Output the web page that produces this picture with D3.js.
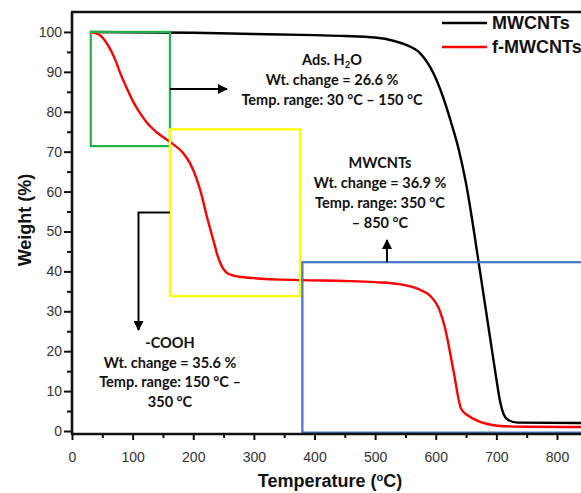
<!DOCTYPE html>
<html>
<head>
<meta charset="utf-8">
<script src="https://cdn.jsdelivr.net/npm/d3@7"></script>
<style>
  body { margin: 0; background: #fff; }
  svg { display: block; overflow: hidden; }
</style>
</head>
<body>
<svg id="chart" width="581" height="493"></svg>
<script>
// TGA data
const mwTemp = [30, 200, 300, 400, 450, 500, 530, 550, 574, 596, 612, 625, 638, 650, 660, 670, 680, 690, 700, 706, 712, 720, 735, 900];
const mwWeight = [100, 99.8, 99.5, 99.2, 99, 98.6, 97.8, 96.8, 94.7, 89.7, 83.7, 77.5, 70.5, 62, 53, 43, 33, 23, 13, 7.5, 4.2, 2.7, 2.1, 2];

const fTemp = [30, 45, 60, 70, 80, 90, 100, 112, 125, 140, 162, 183, 195, 206, 214, 222, 233, 240, 248, 255, 265, 280, 300, 378, 450, 500, 540, 574, 590, 607, 615, 629, 642, 652, 670, 685, 706, 750, 900];
const fWeight = [100, 99.3, 96.5, 93.5, 89.5, 86, 82.8, 79.7, 77, 74.8, 72.4, 69.7, 67, 63, 59, 54, 47.9, 44, 41, 39.7, 39, 38.6, 38.3, 37.8, 37.6, 37.3, 36.8, 35.4, 34, 30, 26, 15.3, 5.5, 4, 2.5, 1.75, 1.25, 1.05, 1.0];

const xTicks = [0, 100, 200, 300, 400, 500, 600, 700, 800];
const xMinor = [50, 150, 250, 350, 450, 550, 650, 750, 850];
const yTicks = [0, 10, 20, 30, 40, 50, 60, 70, 80, 90, 100];
const yMinor = [5, 15, 25, 35, 45, 55, 65, 75, 85, 95];

const seriesNames = ["MWCNTs", "f-MWCNTs"];
const seriesColors = ["#000000", "#ff0000"];

// highlight boxes: [t0, t1, w0, w1]
const greenBox = [31, 161.5, 71.4, 100];
const yellowBox = [161.5, 376, 33.8, 75.6];
const blueBox = [380, 950, -0.4, 42.3];

const svg = d3.select("#chart");

const plotLeft = 72, plotTop = 12, plotBottom = 434;
const x = d3.scaleLinear().domain([0, 900]).range([plotLeft, plotLeft + 900 * 0.60625]);
const y = d3.scaleLinear().domain([-0.75, 105]).range([plotBottom, plotTop]);

const labelFont = "'Liberation Sans', Arial, sans-serif";
const noteFont = "Lato, 'Open Sans', sans-serif";

// boxes
function box(b, color) {
  svg.append("rect")
    .attr("x", x(b[0]))
    .attr("y", y(b[3]))
    .attr("width", x(b[1]) - x(b[0]))
    .attr("height", y(b[2]) - y(b[3]))
    .attr("fill", "none")
    .attr("stroke", color)
    .attr("stroke-width", 2.2);
}

// curves
const line = d3.line().curve(d3.curveMonotoneX);
svg.append("path")
  .datum(mwTemp.map((t, i) => [x(t), y(mwWeight[i])]))
  .attr("d", line)
  .attr("fill", "none")
  .attr("stroke", seriesColors[0])
  .attr("stroke-width", 2.4);

svg.append("path")
  .datum(fTemp.map((t, i) => [x(t), y(fWeight[i])]))
  .attr("d", line)
  .attr("fill", "none")
  .attr("stroke", seriesColors[1])
  .attr("stroke-width", 2.4);

box(greenBox, "#1fb24a");
box(yellowBox, "#ffff00");
box(blueBox, "#4472c4");

// arrow heads
const defs = svg.append("defs");
defs.append("marker")
  .attr("id", "arrow")
  .attr("viewBox", "0 0 10 10")
  .attr("refX", 9).attr("refY", 5)
  .attr("markerWidth", 5).attr("markerHeight", 5)
  .attr("markerUnits", "strokeWidth")
  .attr("orient", "auto")
  .append("path")
  .attr("d", "M0,0 L10,5 L0,10 z")
  .attr("fill", "#000");

// arrow from green box to H2O note
svg.append("line")
  .attr("x1", x(greenBox[1])).attr("y1", 89)
  .attr("x2", 227).attr("y2", 89)
  .attr("stroke", "#000").attr("stroke-width", 2)
  .attr("marker-end", "url(#arrow)");

// arrow from yellow box down to -COOH note
svg.append("path")
  .attr("d", `M${x(yellowBox[0])},212.5 H138.5 V330`)
  .attr("fill", "none")
  .attr("stroke", "#000").attr("stroke-width", 2)
  .attr("marker-end", "url(#arrow)");

// arrow from blue box up to MWCNTs note
svg.append("line")
  .attr("x1", 387).attr("y1", y(blueBox[3]))
  .attr("x2", 387).attr("y2", 240)
  .attr("stroke", "#000").attr("stroke-width", 2)
  .attr("marker-end", "url(#arrow)");

// annotations
function note(cx, y0, lines, gap) {
  const t = svg.append("text")
    .attr("text-anchor", "middle")
    .style("font-family", noteFont)
    .style("font-weight", "bold")
    .style("font-size", "14.5px")
    .attr("fill", "#111");
  lines.forEach((l, i) => {
    const ts = t.append("tspan").attr("x", cx).attr("y", y0 + i * gap);
    if (Array.isArray(l)) {
      ts.append("tspan").text(l[0]);
      ts.append("tspan").attr("baseline-shift", "-2.5px").style("font-size", "9.5px").text(l[1]);
      ts.append("tspan").attr("baseline-shift", "0").text(l[2]);
    } else {
      ts.text(l);
    }
  });
}

note(332, 65, [["Ads. H", "2", "O"], "Wt. change = 26.6 %", "Temp. range: 30 °C – 150 °C"], 20);
note(380, 168, ["MWCNTs", "Wt. change = 36.9 %", "Temp. range: 350 °C", "– 850 °C"], 20);
note(170, 348, ["-COOH", "Wt. change = 35.6 %", "Temp. range: 150 °C –", "350 °C"], 19.5);

// axes
svg.append("g")
  .attr("transform", `translate(${plotLeft},0)`)
  .call(d3.axisLeft(y).tickValues(yTicks).tickSize(8).tickPadding(2).tickSizeOuter(0));
svg.append("g")
  .attr("transform", `translate(${plotLeft},0)`)
  .call(d3.axisLeft(y).tickValues(yMinor).tickSize(5).tickFormat("").tickSizeOuter(0));

svg.append("g")
  .attr("transform", `translate(0,${plotBottom})`)
  .call(d3.axisBottom(x).tickValues(xTicks).tickSize(6).tickPadding(12).tickSizeOuter(0));
svg.append("g")
  .attr("transform", `translate(0,${plotBottom})`)
  .call(d3.axisBottom(x).tickValues(xMinor).tickSize(4).tickFormat("").tickSizeOuter(0));

svg.selectAll(".domain").remove();
svg.selectAll(".tick line").attr("stroke", "#111").attr("stroke-width", 2);
svg.selectAll(".tick text")
  .style("font-family", labelFont)
  .style("font-size", "14px")
  .attr("fill", "#333");

// frame lines
svg.append("path")
  .attr("d", `M${plotLeft},${plotBottom} V${plotTop}`)
  .attr("stroke", "#111").attr("stroke-width", 2.6);
svg.append("path")
  .attr("d", `M${plotLeft - 1},${plotBottom} H581`)
  .attr("stroke", "#111").attr("stroke-width", 2.6);
svg.append("path")
  .attr("d", `M${plotLeft - 1},${plotTop} H581`)
  .attr("stroke", "#111").attr("stroke-width", 2.6);

// axis titles
svg.append("text")
  .attr("transform", "translate(31,220) rotate(-90)")
  .attr("text-anchor", "middle")
  .style("font-family", labelFont)
  .style("font-weight", "bold")
  .style("font-size", "18px")
  .attr("fill", "#111")
  .text("Weight (%)");

const xt = svg.append("text")
  .attr("x", 330).attr("y", 487)
  .attr("text-anchor", "middle")
  .style("font-family", labelFont)
  .style("font-weight", "bold")
  .style("font-size", "18px")
  .attr("fill", "#111");
xt.append("tspan").text("Temperature (");
xt.append("tspan").attr("baseline-shift", "super").style("font-size", "11px").text("o");
xt.append("tspan").attr("baseline-shift", "0").text("C)");

// legend
seriesNames.forEach((name, i) => {
  const ly = 23 + i * 24;
  svg.append("line")
    .attr("x1", 442).attr("x2", 487)
    .attr("y1", ly).attr("y2", ly)
    .attr("stroke", seriesColors[i])
    .attr("stroke-width", 2.6);
  svg.append("text")
    .attr("x", 492).attr("y", ly + 5.5)
    .style("font-family", labelFont)
    .style("font-weight", "bold")
    .style("font-size", "18px")
    .attr("fill", "#111")
    .text(name);
});
</script>
</body>
</html>
